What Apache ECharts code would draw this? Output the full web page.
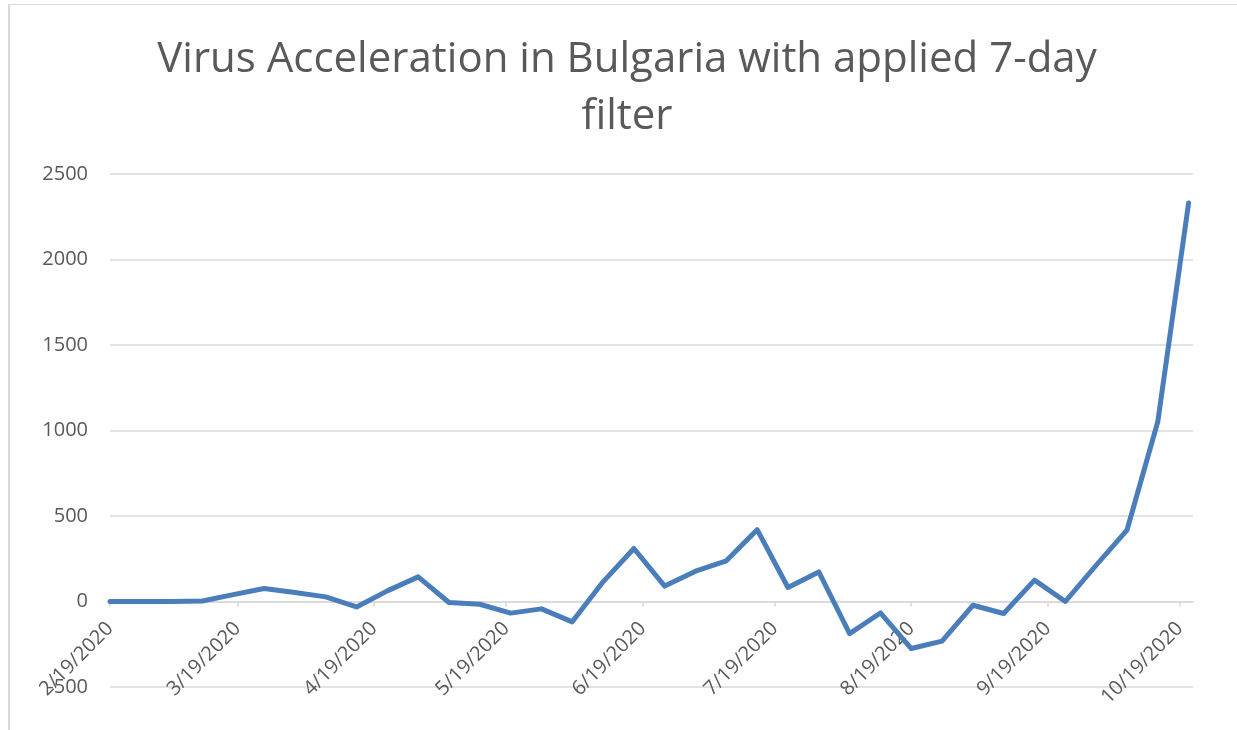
<!DOCTYPE html>
<html>
<head>
<meta charset="utf-8">
<script src="https://cdn.jsdelivr.net/npm/echarts@6/dist/echarts.min.js"></script>
<style>
  body { margin: 0; background: #fff; }
  #wrap { position: relative; width: 1237px; height: 730px; }
  #main { width: 1237px; height: 730px; }
  #frame { position: absolute; left: 8px; top: 4px; right: 0; bottom: 0;
           border-top: 1px solid #d9d9d9; border-left: 2px solid #d9d9d9; pointer-events: none; }
</style>
</head>
<body>
<div id="wrap">
  <div id="main"></div>
  <div id="frame"></div>
</div>
<script>
var dates = ['2020-02-19', '2020-02-26', '2020-03-04', '2020-03-11', '2020-03-18', '2020-03-25',
  '2020-04-01', '2020-04-08', '2020-04-15', '2020-04-22', '2020-04-29', '2020-05-06',
  '2020-05-13', '2020-05-20', '2020-05-27', '2020-06-03', '2020-06-10', '2020-06-17',
  '2020-06-24', '2020-07-01', '2020-07-08', '2020-07-15', '2020-07-22', '2020-07-29',
  '2020-08-05', '2020-08-12', '2020-08-19', '2020-08-26', '2020-09-02', '2020-09-09',
  '2020-09-16', '2020-09-23', '2020-09-30', '2020-10-07', '2020-10-14', '2020-10-21'];
var acceleration = [0, 0, 0, 3, 40, 76,
  53, 27, -32, 62, 144, -6,
  -16, -68, -43, -119, 115, 310,
  90, 177, 238, 420, 82, 173,
  -188, -67, -275, -232, -22, -70,
  125, 0, 212, 417, 1051, 2330];
var tickDates = ['2020-02-19', '2020-03-19', '2020-04-19', '2020-05-19', '2020-06-19',
  '2020-07-19', '2020-08-19', '2020-09-19', '2020-10-19'];
var yTicks = [-500, 0, 500, 1000, 1500, 2000, 2500];

function toTime(s) {
  var p = s.split('-');
  return new Date(+p[0], +p[1] - 1, +p[2]).getTime();
}

function fmtDate(v) {
  var d = new Date(v);
  return (d.getMonth() + 1) + '/' + d.getDate() + '/' + d.getFullYear();
}

var seriesData = [];
for (var i = 0; i < dates.length; i++) {
  seriesData.push([toTime(dates[i]), acceleration[i]]);
}
var tickTimes = tickDates.map(toTime);

var font = '"Open Sans", sans-serif';
var gridTop = 174, gridBottom = 43, chartH = 730;
var yMin = yTicks[0], yMax = yTicks[yTicks.length - 1];
// x axis sits on the zero line, labels included (like the Excel original)
var zeroOffset = -(chartH - gridTop - gridBottom) * (0 - yMin) / (yMax - yMin);

echarts.init(document.getElementById('main')).setOption({
  animation: false,
  title: {
    text: 'Virus Acceleration in Bulgaria with applied 7-day\nfilter',
    left: 622,
    textAlign: 'center',
    top: 27,
    textStyle: {
      fontFamily: font,
      fontWeight: 'normal',
      fontSize: 42,
      lineHeight: 57,
      color: '#595959'
    }
  },
  grid: {
    left: 110,
    right: 44,
    top: gridTop,
    bottom: gridBottom,
    outerBoundsMode: 'none'
  },
  xAxis: {
    type: 'value',
    min: toTime('2020-02-19'),
    max: toTime('2020-10-22'),
    offset: zeroOffset,
    axisLine: { onZero: false, lineStyle: { color: '#d9d9d9', width: 1.5 } },
    axisTick: { show: true, length: 5, customValues: tickTimes, lineStyle: { color: '#d9d9d9', width: 1.5 } },
    axisLabel: {
      customValues: tickTimes,
      formatter: fmtDate,
      rotate: 45,
      margin: 24,
      fontFamily: font,
      fontSize: 20,
      color: '#595959'
    },
    splitLine: { show: false }
  },
  yAxis: {
    type: 'value',
    min: yMin,
    max: yMax,
    interval: 500,
    axisLine: { show: false },
    axisTick: { show: false },
    axisLabel: {
      margin: 22,
      formatter: function (v) { return String(v); },
      fontFamily: font,
      fontSize: 20,
      color: '#595959'
    },
    splitLine: { lineStyle: { color: '#d9d9d9', width: 1.5 } }
  },
  series: [
    {
      type: 'line',
      data: seriesData,
      showSymbol: false,
      lineStyle: { color: '#4a7ebb', width: 5, cap: 'round', join: 'round' }
    }
  ]
});
</script>
</body>
</html>
